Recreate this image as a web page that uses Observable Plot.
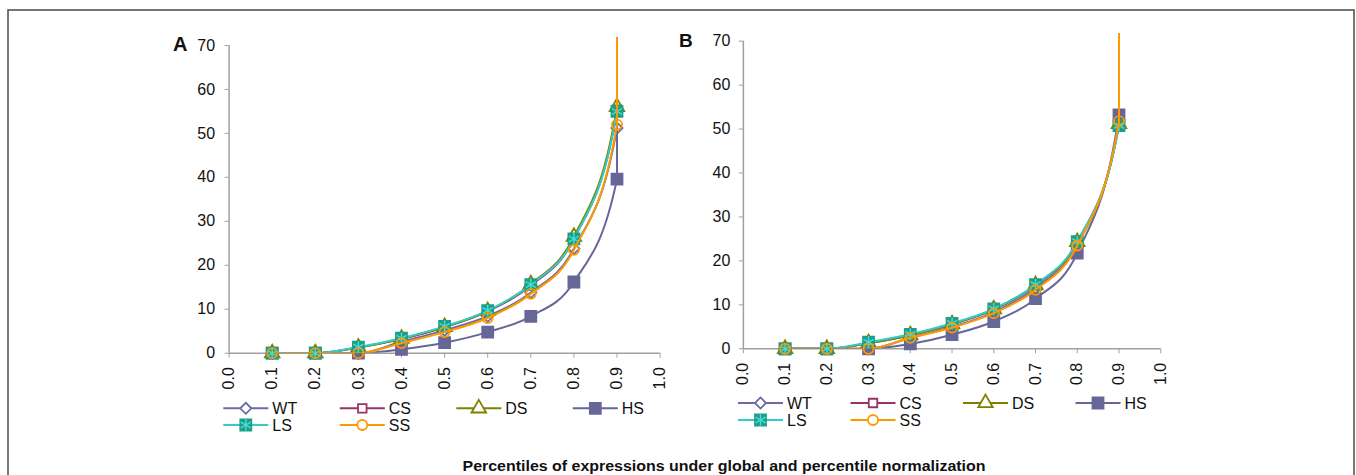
<!DOCTYPE html>
<html><head><meta charset="utf-8">
<script src="https://cdn.jsdelivr.net/npm/d3@7"></script>
<script src="https://cdn.jsdelivr.net/npm/@observablehq/plot@0.6"></script>
<style>
html,body{margin:0;padding:0;background:#fff;}
#root{position:relative;width:1356px;height:475px;overflow:hidden;font-family:"Liberation Sans",Arial,sans-serif;}
#root svg{position:absolute;overflow:hidden;}
</style></head><body><div id="root"></div>
<script>
// ---------- data ----------
const percentiles = [0.1, 0.2, 0.3, 0.4, 0.5, 0.6, 0.7, 0.8, 0.9, 1.0];
const seriesNames = ["WT", "CS", "DS", "HS", "LS", "SS"];
// Panel A (global normalization); the 1.0 percentile (maximum) lies far above the plotted range
const WT_A = [0, 0, 0.0, 2.6, 5.2, 8.4, 13.8, 23.8, 51.2, 100000];
const CS_A = [0, 0, 1.3, 3.2, 5.9, 9.5, 15.4, 26.0, 55.4, 100000];
const DS_A = [0, 0, 1.3, 3.3, 6.0, 9.6, 15.7, 26.5, 56.0, 100000];
const HS_A = [0, 0, 0.0, 0.9, 2.4, 4.8, 8.4, 16.2, 39.6, 100000];
const LS_A = [0, 0, 1.4, 3.4, 6.1, 9.7, 15.6, 26.0, 55.0, 100000];
const SS_A = [0, 0, 0.0, 2.3, 4.8, 8.0, 13.5, 23.5, 52.0, 100000];
// Panel B (percentile normalization)
const WT_B = [0, 0, 0.0, 2.5, 5.0, 8.3, 13.8, 23.6, 51.5, 100000];
const CS_B = [0, 0, 1.3, 3.1, 5.6, 8.9, 14.4, 24.2, 51.0, 100000];
const DS_B = [0, 0, 1.3, 3.1, 5.6, 9.0, 14.5, 24.3, 51.2, 100000];
const HS_B = [0, 0, 0.0, 1.1, 3.2, 6.2, 11.4, 21.8, 53.2, 100000];
const LS_B = [0, 0, 1.5, 3.3, 5.8, 9.1, 14.6, 24.4, 50.8, 100000];
const SS_B = [0, 0, 0.0, 2.5, 4.8, 8.1, 13.4, 23.5, 51.8, 100000];
const xTicks = [0.0, 0.1, 0.2, 0.3, 0.4, 0.5, 0.6, 0.7, 0.8, 0.9, 1.0];
const yTicks = [0, 10, 20, 30, 40, 50, 60, 70];
const panelLabels = ["A", "B"];
const captionText = "Percentiles of expressions under global and percentile normalization";

// ---------- styles ----------
const seriesStyle = {
  WT: {color: "#6B6BA6", symbol: "diamond2", r: 5.0, fill: "none"},
  CS: {color: "#993366", symbol: "square",   r: 4.8, fill: "none"},
  DS: {color: "#808000", symbol: "triangle", r: 5.4, fill: "none"},
  HS: {color: "#666699", symbol: "square",   r: 6.2, fill: "#666699"},
  LS: {color: "#33CCCC", symbol: "square",   r: 6.2, fill: "#1E9E88", star: "#45DDD5"},
  SS: {color: "#FF9900", symbol: "circle",   r: 5.0, fill: "none"}
};

function rowsOf(arrays) {
  const rows = [];
  seriesNames.forEach((s, i) => percentiles.forEach((p, j) => rows.push({series: s, p, v: arrays[i][j]})));
  return rows;
}

function panel(rows, cfg) {
  const marks = [
    Plot.ruleX([0], {y1: 0, y2: 70, stroke: "#a0a0a0", strokeWidth: 1.5}),
    Plot.ruleY([0], {x1: 0, x2: 1, stroke: "#a0a0a0", strokeWidth: 1.5}),
    Plot.axisY({ticks: yTicks, tickSize: 4, tickPadding: cfg.yPad, stroke: "#a0a0a0", fill: "#111", label: null, fontSize: 16}),
    Plot.axisX({ticks: xTicks, tickFormat: d => d.toFixed(1), tickRotate: -90, tickSize: 5, tickPadding: 9, stroke: "#a0a0a0", fill: "#111", label: null, fontSize: 16})
  ];
  for (const s of seriesNames) {
    const st = seriesStyle[s];
    marks.push(Plot.line(rows, {filter: d => d.series === s, x: "p", y: "v", stroke: st.color, strokeWidth: 2, curve: "monotone-x", clip: true}));
    marks.push(Plot.dot(rows, {filter: d => d.series === s && d.v <= 71, x: "p", y: "v", symbol: st.symbol, r: st.r, stroke: st.fill !== "none" ? st.fill : st.color, fill: st.fill, strokeWidth: 1.8}));
    if (st.star) marks.push(Plot.dot(rows, {filter: d => d.series === s && d.v <= 71, x: "p", y: "v", symbol: "asterisk", r: 5.5, stroke: st.star, strokeWidth: 1.4}));
  }
  const svg = Plot.plot({
    width: cfg.width, height: cfg.height,
    marginLeft: cfg.marginLeft, marginRight: cfg.marginRight, marginTop: cfg.marginTop, marginBottom: cfg.marginBottom,
    x: {domain: [0, 1]},
    y: {domain: [0, 71.7]},
    style: {fontFamily: "'Liberation Sans', Arial, sans-serif", fontSize: "16px", background: "none", color: "#111"},
    marks
  });
  svg.style.left = cfg.left + "px";
  svg.style.top = "0px";
  return svg;
}

const root = document.getElementById("root");

// background overlay: border
const W = 1356, H = 475;
const bg = d3.select(root).append("svg").attr("width", W).attr("height", H).style("left", "0px").style("top", "0px");
bg.append("rect").attr("x", 8).attr("y", 10).attr("width", 1346).attr("height", 480)
  .attr("fill", "none").attr("stroke", "#4a4a4a").attr("stroke-width", 1.5);

root.appendChild(panel(rowsOf([WT_A, CS_A, DS_A, HS_A, LS_A, SS_A]),
  {left: 150, width: 530, marginLeft: 78.6, marginRight: 20.4, marginTop: 37.5, height: 398, marginBottom: 45.3, yPad: 10}));
root.appendChild(panel(rowsOf([WT_B, CS_B, DS_B, HS_B, LS_B, SS_B]),
  {left: 660, width: 520.7, marginLeft: 82.85, marginRight: 20.45, marginTop: 33.2, height: 393.6, marginBottom: 45.3, yPad: 9}));

// foreground overlay: panel labels, legends, caption
const fg = d3.select(root).append("svg").attr("width", W).attr("height", H).style("left", "0px").style("top", "0px");
const labelPos = [{x: 173, y: 50.8, size: 20}, {x: 679, y: 46.7, size: 19}];
panelLabels.forEach((t, i) => fg.append("text").attr("x", labelPos[i].x).attr("y", labelPos[i].y)
  .attr("font-family", "'Liberation Sans', Arial, sans-serif").attr("font-weight", "bold")
  .attr("font-size", labelPos[i].size).attr("fill", "#111").text(t));

const legendPos = [{x: 223.3, y: 408.3, col: 116.5, row: 16.7}, {x: 738, y: 403, col: 112.5, row: 17}];
const symMap = {diamond2: d3.symbolDiamond2, square: d3.symbolSquare, triangle: d3.symbolTriangle, circle: d3.symbolCircle, asterisk: d3.symbolAsterisk};
legendPos.forEach(lp => {
  seriesNames.forEach((s, i) => {
    const st = seriesStyle[s];
    const x = lp.x + (i % 4) * lp.col, y = lp.y + Math.floor(i / 4) * lp.row;
    const g = fg.append("g");
    g.append("line").attr("x1", x).attr("x2", x + 45).attr("y1", y).attr("y2", y).attr("stroke", st.color).attr("stroke-width", 2);
    g.append("path").attr("transform", `translate(${x + 22.5},${y})`)
      .attr("d", d3.symbol(symMap[st.symbol], Math.PI * st.r * st.r)())
      .attr("fill", st.fill === "none" ? "#fff" : st.fill)
      .attr("stroke", st.fill !== "none" ? st.fill : st.color).attr("stroke-width", 1.8);
    if (st.star) g.append("path").attr("transform", `translate(${x + 22.5},${y})`)
      .attr("d", d3.symbol(d3.symbolAsterisk, Math.PI * 5.5 * 5.5)()).attr("fill", "none")
      .attr("stroke", st.star).attr("stroke-width", 1.4);
    g.append("text").attr("x", x + 49).attr("y", y + 5.6)
      .attr("font-family", "'Liberation Sans', Arial, sans-serif").attr("font-size", 16).attr("fill", "#111").text(s);
  });
});

fg.append("text").attr("x", 724).attr("y", 470.5).attr("text-anchor", "middle")
  .attr("font-family", "'Liberation Sans', Arial, sans-serif").attr("font-weight", "bold").attr("font-size", 14)
  .attr("textLength", 523).attr("lengthAdjust", "spacingAndGlyphs").attr("fill", "#111").text(captionText);
</script></body></html>
